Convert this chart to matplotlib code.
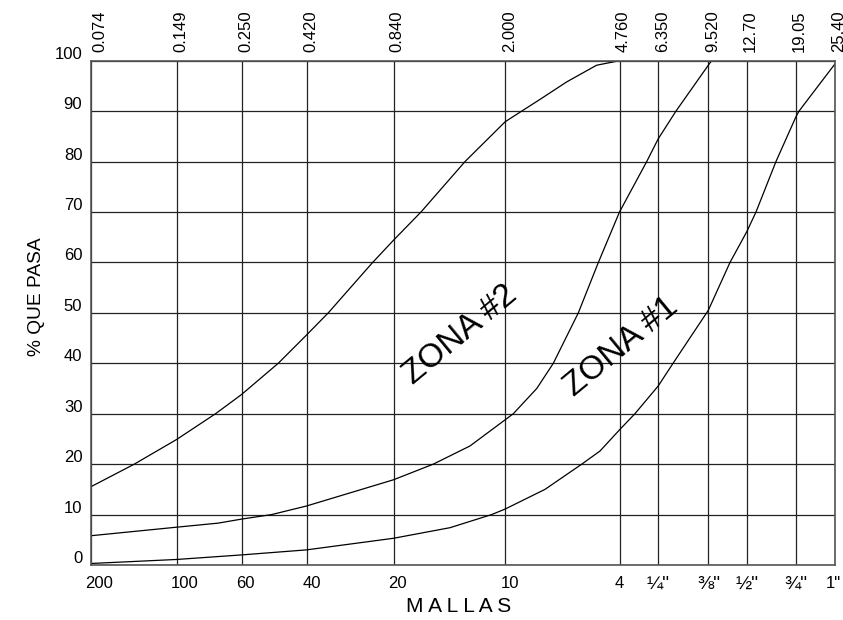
"""
Curvas granulometricas - zonas de arena (% que pasa vs malla).
"""

import numpy as np
import matplotlib
matplotlib.use("Agg")
import matplotlib.pyplot as plt
from matplotlib.ticker import NullLocator
import matplotlib.transforms as mtransforms

plt.rcParams["font.family"] = ["Liberation Sans", "DejaVu Sans"]

# Sieve openings (mm) and their labels
sizes_mm = [0.074, 0.149, 0.250, 0.420, 0.840, 2.000, 4.760, 6.350, 9.520, 12.70, 19.05, 25.40]
size_labels = ["0.074", "0.149", "0.250", "0.420", "0.840", "2.000", "4.760",
               "6.350", "9.520", "12.70", "19.05", "25.40"]
mesh_labels = ["200", "100", "60", "40", "20", "10", "4",
               "\u00bc\"", "\u215c\"", "\u00bd\"", "\u00be\"", "1\""]
pct_ticks = list(range(0, 101, 10))

# Upper curve (fine limit of zona #2)
upper_x = [0.074, 0.1055, 0.149, 0.2032, 0.250, 0.3352, 0.420, 0.4996, 0.7115,
           0.840, 1.040, 1.464, 2.000, 2.266, 2.60, 3.19, 4.00, 4.760]
upper_y = [15.5, 20, 24.9, 30, 33.8, 40, 45.6, 50, 60,
           64.4, 70, 80, 87.9, 90, 92.3, 95.8, 99.1, 100]

# Middle curve (limit between zona #2 and zona #1)
middle_x = [0.074, 0.149, 0.2072, 0.250, 0.318, 0.420, 0.840, 1.144, 1.521, 2.000,
            2.127, 2.541, 2.881, 3.483, 4.055, 4.760, 5.83, 6.350, 7.33, 9.520, 9.76]
middle_y = [5.8, 7.5, 8.3, 9.1, 10, 11.7, 16.9, 20, 23.6, 28.8,
            30, 35, 40, 50, 60, 70, 80, 84.5, 90, 99.1, 100]

# Lower curve (coarse limit of zona #1)
lower_x = [0.074, 0.149, 0.250, 0.420, 0.840, 1.303, 1.80, 2.000, 2.705, 3.575,
           4.105, 4.760, 5.34, 6.350, 7.16, 9.520, 11.2, 12.70, 13.70, 16.15,
           19.05, 19.47, 25.40]
lower_y = [0.3, 1.1, 2.0, 3.0, 5.3, 7.4, 10, 11.1, 15, 20,
           22.6, 26.8, 30, 35.5, 40, 50.5, 60, 66.1, 70, 80,
           88.9, 90, 99.5]

# Printed form: columns are roughly, not exactly, logarithmic
column_edges = [0, 86.0, 150.8, 215.8, 302.8, 414.5, 528.8, 567.5, 617.6, 656.1, 705.3, 744.8]
log_sizes = np.log10(sizes_mm)


def sieve_forward(x):
    with np.errstate(divide="ignore", invalid="ignore"):
        return np.interp(np.log10(x), log_sizes, column_edges)


def sieve_inverse(u):
    return 10 ** np.interp(u, column_edges, log_sizes)


def nudge(label, dx_px, dy_px=0):
    off = mtransforms.ScaledTranslation(dx_px / 100, dy_px / 100, fig.dpi_scale_trans)
    label.set_transform(label.get_transform() + off)


fig = plt.figure(figsize=(8.43, 6.2), dpi=100)
ax = fig.add_axes([0.1076, 0.0887, 0.8835, 0.8134])

ax.set_xscale("function", functions=(sieve_forward, sieve_inverse))
ax.set_xlim(sizes_mm[0], sizes_mm[-1])
ax.set_ylim(0, 100)

# Curves
for xs, ys in [(upper_x, upper_y), (middle_x, middle_y), (lower_x, lower_y)]:
    ax.plot(xs, ys, color="black", linewidth=0.9)

# Grid on the sieve sizes and every 10 %
ax.xaxis.set_minor_locator(NullLocator())
ax.set_xticks(sizes_mm)
ax.set_xticklabels(mesh_labels, fontsize=12)
ax.set_yticks(pct_ticks)
ax.set_yticklabels([str(v) for v in pct_ticks], fontsize=12)
ax.grid(True, color="#222222", linewidth=0.9)
ax.set_axisbelow(True)
ax.tick_params(axis="both", length=0)
ax.tick_params(axis="x", pad=8)
ax.tick_params(axis="y", pad=6)

# Y labels sit just above their line
for lab in ax.get_yticklabels():
    lab.set_verticalalignment("baseline")
    nudge(lab, 0, 2)

# Mesh numbers sit a bit right of their line; the inch fractions print larger
bottom_shift = [8, 8, 4, 5, 4, 5, 0, 0, 1, 0, 0, -2]
for lab, dx in zip(ax.get_xticklabels(), bottom_shift):
    nudge(lab, dx)
    if lab.get_text()[0] in "\u00bc\u215c\u00bd\u00be":
        lab.set_fontsize(14)

for spine in ax.spines.values():
    spine.set_color("#555555")
    spine.set_linewidth(1.2)

# Top axis with the openings in mm
top = ax.twiny()
top.set_xscale("function", functions=(sieve_forward, sieve_inverse))
top.set_xlim(ax.get_xlim())
top.xaxis.set_minor_locator(NullLocator())
top.set_xticks(sizes_mm)
top.set_xticklabels(size_labels, rotation=90, fontsize=12)
top.tick_params(length=0, pad=6)
top.grid(False)
for spine in top.spines.values():
    spine.set_visible(False)
top_shift = [9, 4, 4, 4, 3, 4, 4, 4, 4, 3, 3, 3]
for lab, dx in zip(top.get_xticklabels(), top_shift):
    nudge(lab, dx)

# Axis titles
ax.set_ylabel("% QUE PASA", fontsize=13.8)
ax.yaxis.set_label_coords(-0.062, 0.533)
ax.set_xlabel("M A L L A S", fontsize=15)
ax.xaxis.set_label_coords(0.4945, -0.064)

# Zone labels
ax.text(1.408, 45.6, "ZONA #2", fontsize=24, rotation=39.6,
        rotation_mode="anchor", ha="center", va="center")
ax.text(4.815, 43.2, "ZONA #1", fontsize=24, rotation=39.6,
        rotation_mode="anchor", ha="center", va="center")

fig.savefig("out.png", dpi=100)
